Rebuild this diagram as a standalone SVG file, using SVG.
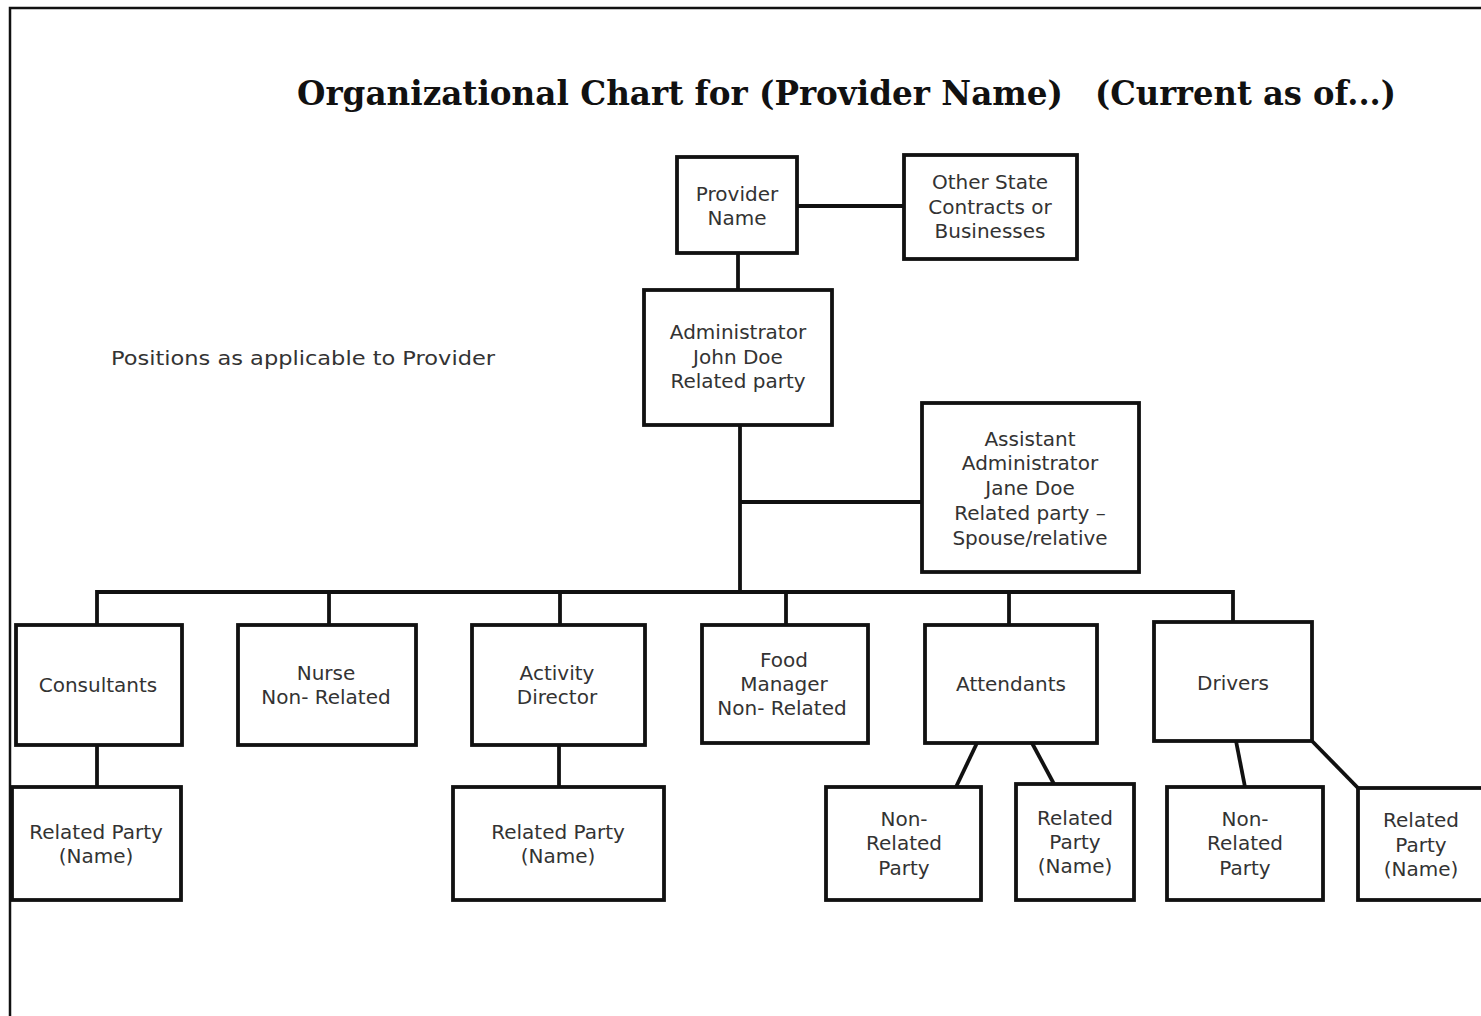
<svg xmlns="http://www.w3.org/2000/svg" width="1481" height="1016" viewBox="0 0 1481 1016">
<style>
.box{fill:#fff;stroke:#111;stroke-width:3.8}
.ln{stroke:#111;stroke-width:3.8;fill:none}
.t{font-family:"DejaVu Sans",Verdana,sans-serif;font-size:20px;fill:#333;text-anchor:middle}
.title{font-family:"DejaVu Serif","Liberation Serif",serif;font-weight:bold;font-size:33px;fill:#111}
</style>
<rect width="1481" height="1016" fill="#fff"/>
<path d="M10 1016 V8 H1481" stroke="#111" stroke-width="2.5" fill="none"/>
<text class="title" x="297" y="105" textLength="766" lengthAdjust="spacingAndGlyphs">Organizational Chart for (Provider Name)</text>
<text class="title" x="1095" y="105" textLength="301" lengthAdjust="spacingAndGlyphs">(Current as of...)</text>
<text class="t" x="111" y="365" style="text-anchor:start" textLength="384" lengthAdjust="spacingAndGlyphs">Positions as applicable to Provider</text>
<g id="connectors">
<line class="ln" x1="797" y1="206" x2="904" y2="206"/>
<line class="ln" x1="738" y1="253" x2="738" y2="290"/>
<line class="ln" x1="740" y1="425" x2="740" y2="592"/>
<line class="ln" x1="740" y1="502" x2="922" y2="502"/>
<path class="ln" d="M97 625 V592 H1233 V622"/>
<line class="ln" x1="329" y1="592" x2="329" y2="625"/>
<line class="ln" x1="560" y1="592" x2="560" y2="625"/>
<line class="ln" x1="786" y1="592" x2="786" y2="625"/>
<line class="ln" x1="1009" y1="592" x2="1009" y2="625"/>
<line class="ln" x1="97" y1="745" x2="97" y2="787"/>
<line class="ln" x1="559" y1="745" x2="559" y2="787"/>
<line class="ln" x1="977" y1="743" x2="956" y2="787"/>
<line class="ln" x1="1032" y1="743" x2="1054" y2="784"/>
<line class="ln" x1="1236" y1="741" x2="1245" y2="787"/>
<line class="ln" x1="1312" y1="741" x2="1358" y2="788"/>
</g>
<g id="provider"><rect class="box" x="677" y="157" width="120" height="96"/><text class="t" x="737" y="201">Provider</text><text class="t" x="737" y="225">Name</text></g>
<g id="other"><rect class="box" x="904" y="155" width="173" height="104"/><text class="t" x="990" y="189">Other State</text><text class="t" x="990" y="214">Contracts or</text><text class="t" x="990" y="238">Businesses</text></g>
<g id="admin"><rect class="box" x="644" y="290" width="188" height="135"/><text class="t" x="738" y="339">Administrator</text><text class="t" x="738" y="364">John Doe</text><text class="t" x="738" y="388">Related party</text></g>
<g id="asst"><rect class="box" x="922" y="403" width="217" height="169"/><text class="t" x="1030" y="446">Assistant</text><text class="t" x="1030" y="470">Administrator</text><text class="t" x="1030" y="495">Jane Doe</text><text class="t" x="1030" y="520">Related party –</text><text class="t" x="1030" y="545">Spouse/relative</text></g>
<g id="consultants"><rect class="box" x="16" y="625" width="166" height="120"/><text class="t" x="98" y="692">Consultants</text></g>
<g id="nurse"><rect class="box" x="238" y="625" width="178" height="120"/><text class="t" x="326" y="680">Nurse</text><text class="t" x="326" y="704">Non- Related</text></g>
<g id="activity"><rect class="box" x="472" y="625" width="173" height="120"/><text class="t" x="557" y="680">Activity</text><text class="t" x="557" y="704">Director</text></g>
<g id="food"><rect class="box" x="702" y="625" width="166" height="118"/><text class="t" x="784" y="667">Food</text><text class="t" x="784" y="691">Manager</text><text class="t" x="782" y="715">Non- Related</text></g>
<g id="attendants"><rect class="box" x="925" y="625" width="172" height="118"/><text class="t" x="1011" y="691">Attendants</text></g>
<g id="drivers"><rect class="box" x="1154" y="622" width="158" height="119"/><text class="t" x="1233" y="690">Drivers</text></g>
<g id="cons-rel"><rect class="box" x="12" y="787" width="169" height="113"/><text class="t" x="96" y="839">Related Party</text><text class="t" x="96" y="863">(Name)</text></g>
<g id="act-rel"><rect class="box" x="453" y="787" width="211" height="113"/><text class="t" x="558" y="839">Related Party</text><text class="t" x="558" y="863">(Name)</text></g>
<g id="att-non"><rect class="box" x="826" y="787" width="155" height="113"/><text class="t" x="904" y="826">Non-</text><text class="t" x="904" y="850">Related</text><text class="t" x="904" y="875">Party</text></g>
<g id="att-rel"><rect class="box" x="1016" y="784" width="118" height="116"/><text class="t" x="1075" y="825">Related</text><text class="t" x="1075" y="849">Party</text><text class="t" x="1075" y="873">(Name)</text></g>
<g id="drv-non"><rect class="box" x="1167" y="787" width="156" height="113"/><text class="t" x="1245" y="826">Non-</text><text class="t" x="1245" y="850">Related</text><text class="t" x="1245" y="875">Party</text></g>
<g id="drv-rel"><rect class="box" x="1358" y="788" width="130" height="112"/><text class="t" x="1421" y="827">Related</text><text class="t" x="1421" y="852">Party</text><text class="t" x="1421" y="876">(Name)</text></g>
</svg>
